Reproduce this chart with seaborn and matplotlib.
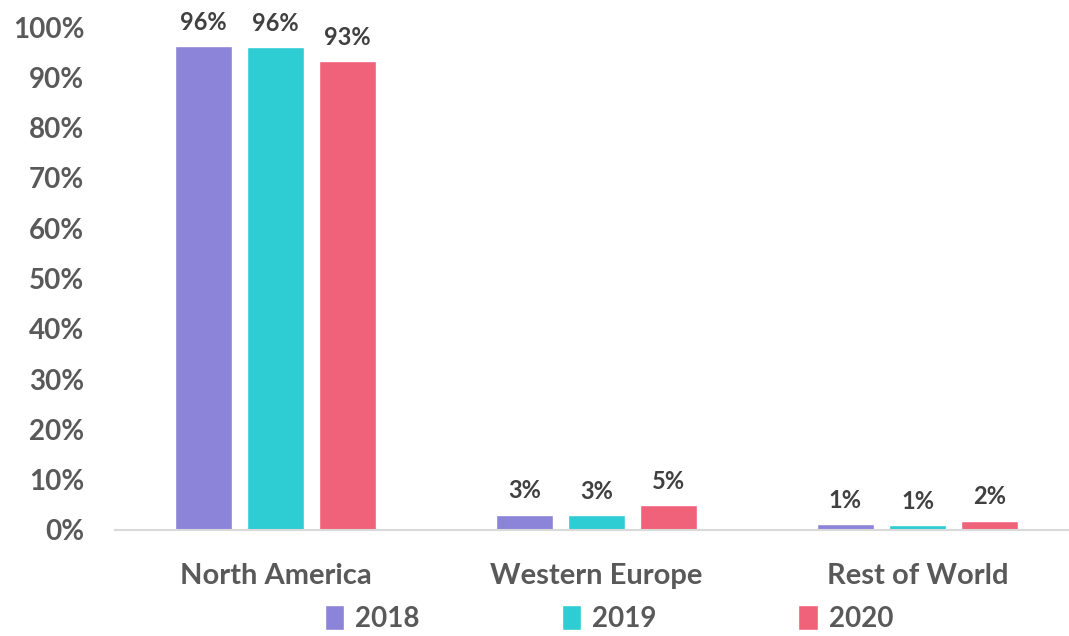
import pandas as pd
import numpy as np
import matplotlib.pyplot as plt
import seaborn as sns
from matplotlib.ticker import PercentFormatter

# ── data ─────────────────────────────────────────────
regions = ['North America', 'Western Europe', 'Rest of World']
years = ['2018', '2019', '2020']
share_2018 = [96.2, 3.0, 1.1]
share_2019 = [96.0, 2.9, 0.9]
share_2020 = [93.2, 4.9, 1.85]
colors = ['#8C84D8', '#2ECCD3', '#EF627A']

df = pd.DataFrame({
    'region': regions * 3,
    'year': [y for y in years for _ in regions],
    'share': share_2018 + share_2019 + share_2020,
})

# ── plot ─────────────────────────────────────────────
sns.set_style('white')
plt.rcParams['font.family'] = ['Lato', 'DejaVu Sans']
plt.rcParams['font.weight'] = 'bold'
text_col = '#595959'

fig = plt.figure(figsize=(10.69, 6.36), dpi=100)
ax = fig.add_axes([0.1076, 0.1667, 0.9008, 0.7908])

sns.barplot(data=df, x='region', y='share', hue='year', palette=colors,
            width=0.675, gap=0.21, ax=ax, saturation=1)

for c in ax.containers:
    ax.bar_label(c, fmt='%.0f%%', padding=9, fontsize=17, fontweight='bold',
                 color='#404040')

ax.set_ylim(0, 100)
ax.set_yticks(np.arange(0, 101, 10))
ax.yaxis.set_major_formatter(PercentFormatter(decimals=0))
ax.set_xlim(-0.5, 2.5)
ax.set_xlabel('')
ax.set_ylabel('')
ax.tick_params(axis='y', labelsize=20, labelcolor=text_col, length=0, pad=22)
ax.tick_params(axis='x', labelsize=21, labelcolor=text_col, length=0, pad=24)
for lab in ax.get_xticklabels() + ax.get_yticklabels():
    lab.set_fontweight('bold')

sns.despine(ax=ax, left=True)
ax.spines['bottom'].set_color('#d9d9d9')
ax.spines['bottom'].set_linewidth(1.5)

ax.legend(loc='lower center', bbox_to_anchor=(0.513, -0.252), ncol=3,
          frameon=False, handlelength=0.7, handleheight=1.0,
          handletextpad=0.4, columnspacing=5.1,
          prop={'size': 20, 'weight': 'bold'}, labelcolor=text_col)

fig.savefig('out.png', dpi=100)
